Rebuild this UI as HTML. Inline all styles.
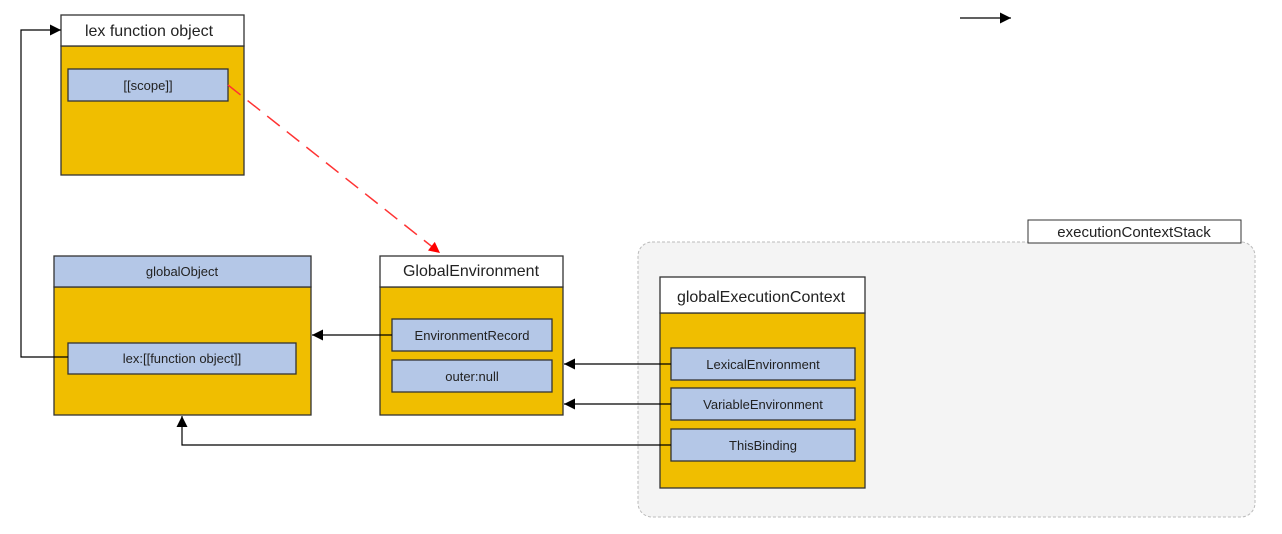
<!DOCTYPE html>
<html><head><meta charset="utf-8"><style>
html,body{margin:0;padding:0;background:#fff;}
svg{display:block;font-family:"Liberation Sans",sans-serif;}
</style></head><body>
<svg width="1282" height="534" viewBox="0 0 1282 534" xmlns="http://www.w3.org/2000/svg">
<defs>
<marker id="a" viewBox="0 0 10 10" refX="10" refY="5" markerWidth="15" markerHeight="11" markerUnits="userSpaceOnUse" orient="auto"><path d="M0,0L10,5L0,10z" fill="#000"/></marker>
<marker id="r" viewBox="0 0 10 10" refX="10" refY="5" markerWidth="15" markerHeight="11" markerUnits="userSpaceOnUse" orient="auto"><path d="M0,0L10,5L0,10z" fill="#f00"/></marker>
</defs>
<rect x="638" y="242" width="617" height="275" rx="14" fill="#f4f4f4" stroke="#bbb" stroke-dasharray="3,2"/>
<rect x="1028" y="220" width="213" height="23" fill="#fff" stroke="#333"/>
<text x="1134" y="237" font-size="15" text-anchor="middle" fill="#222">executionContextStack</text>

<g stroke="#333" stroke-width="1.3">
<rect x="61" y="46" width="183" height="129" fill="#f0be00"/>
<rect x="61" y="15" width="183" height="31" fill="#fff"/>
<rect x="68" y="69" width="160" height="32" fill="#b4c7e7"/>
<rect x="54" y="287" width="257" height="128" fill="#f0be00"/>
<rect x="54" y="256" width="257" height="31" fill="#b4c7e7"/>
<rect x="68" y="343" width="228" height="31" fill="#b4c7e7"/>
<rect x="380" y="287" width="183" height="128" fill="#f0be00"/>
<rect x="380" y="256" width="183" height="31" fill="#fff"/>
<rect x="392" y="319" width="160" height="32" fill="#b4c7e7"/>
<rect x="392" y="360" width="160" height="32" fill="#b4c7e7"/>
<rect x="660" y="313" width="205" height="175" fill="#f0be00"/>
<rect x="660" y="277" width="205" height="36" fill="#fff"/>
<rect x="671" y="348" width="184" height="32" fill="#b4c7e7"/>
<rect x="671" y="388" width="184" height="32" fill="#b4c7e7"/>
<rect x="671" y="429" width="184" height="32" fill="#b4c7e7"/>
</g>

<g fill="#222" text-anchor="middle">
<text x="149" y="36" font-size="16">lex  function object</text>
<text x="148" y="90" font-size="13">[[scope]]</text>
<text x="182" y="276" font-size="13">globalObject</text>
<text x="182" y="363" font-size="13">lex:[[function object]]</text>
<text x="471" y="276" font-size="16">GlobalEnvironment</text>
<text x="472" y="340" font-size="13">EnvironmentRecord</text>
<text x="472" y="381" font-size="13">outer:null</text>
<text x="761" y="302" font-size="16">globalExecutionContext</text>
<text x="763" y="369" font-size="13">LexicalEnvironment</text>
<text x="763" y="409" font-size="13">VariableEnvironment</text>
<text x="763" y="450" font-size="13">ThisBinding</text>
</g>

<g stroke="#000" stroke-width="1.2" fill="none">
<path d="M392,335H312" marker-end="url(#a)"/>
<path d="M671,364H564" marker-end="url(#a)"/>
<path d="M671,404H564" marker-end="url(#a)"/>
<path d="M671,445H182V416" marker-end="url(#a)"/>
<path d="M68,357H21V30H61" marker-end="url(#a)"/>
<path d="M960,18H1011" marker-end="url(#a)"/>
</g>
<path d="M228,85L440,253" stroke="#f33" stroke-width="1.5" stroke-dasharray="16,9" fill="none" marker-end="url(#r)"/>
</svg>
</body></html>
